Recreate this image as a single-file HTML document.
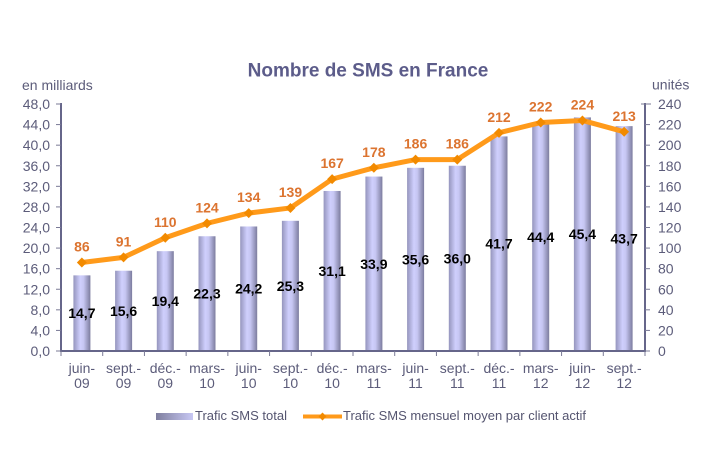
<!DOCTYPE html>
<html><head><meta charset="utf-8"><style>
html,body{margin:0;padding:0;background:#fff;}
svg{display:block;}
text{font-family:"Liberation Sans",Arial,sans-serif;}
</style></head><body>
<svg width="715" height="461" viewBox="0 0 715 461" xmlns="http://www.w3.org/2000/svg">
<defs>
<linearGradient id="bg" x1="0" x2="1" y1="0" y2="0">
<stop offset="0" stop-color="#9595bd"/>
<stop offset="0.4" stop-color="#cfcffd"/>
<stop offset="0.6" stop-color="#c6c6f2"/>
<stop offset="1" stop-color="#7c7c9e"/>
</linearGradient>
<linearGradient id="lg" x1="0" x2="1" y1="0" y2="0">
<stop offset="0" stop-color="#7f7f9f"/>
<stop offset="1" stop-color="#c8c8f4"/>
</linearGradient>
</defs>
<rect width="715" height="461" fill="#fff"/>
<text x="368" y="76.5" font-size="19" font-weight="bold" fill="#5c5c8a" text-anchor="middle">Nombre de SMS en France</text>
<text x="22" y="90" font-size="14" fill="#5c5c7a">en milliards</text>
<text x="652" y="89.5" font-size="14" fill="#5c5c7a">unités</text>

<!-- bars -->
<g fill="url(#bg)">
<rect x="73.4" y="275.36" width="17" height="75.64"/>
<rect x="115.1" y="270.73" width="17" height="80.27"/>
<rect x="156.8" y="251.17" width="17" height="99.83"/>
<rect x="198.5" y="236.25" width="17" height="114.75"/>
<rect x="240.2" y="226.47" width="17" height="124.53"/>
<rect x="281.9" y="220.81" width="17" height="130.19"/>
<rect x="323.6" y="190.97" width="17" height="160.03"/>
<rect x="365.4" y="176.56" width="17" height="174.44"/>
<rect x="407.1" y="167.81" width="17" height="183.19"/>
<rect x="448.8" y="165.75" width="17" height="185.25"/>
<rect x="490.5" y="136.42" width="17" height="214.58"/>
<rect x="532.2" y="122.53" width="17" height="228.47"/>
<rect x="573.9" y="117.38" width="17" height="233.62"/>
<rect x="615.6" y="126.13" width="17" height="224.87"/>
</g>

<!-- axes -->
<g stroke="#66668a" stroke-width="2" fill="none">
<line x1="61" y1="103" x2="61" y2="351"/>
<line x1="645" y1="103" x2="645" y2="351"/>
<line x1="60" y1="351" x2="646" y2="351"/>
</g>
<g stroke="#7a7a96" stroke-width="1">
<line x1="56" y1="104" x2="61" y2="104"/><line x1="56" y1="124.58" x2="61" y2="124.58"/><line x1="56" y1="145.17" x2="61" y2="145.17"/><line x1="56" y1="165.75" x2="61" y2="165.75"/><line x1="56" y1="186.33" x2="61" y2="186.33"/><line x1="56" y1="206.92" x2="61" y2="206.92"/><line x1="56" y1="227.5" x2="61" y2="227.5"/><line x1="56" y1="248.08" x2="61" y2="248.08"/><line x1="56" y1="268.67" x2="61" y2="268.67"/><line x1="56" y1="289.25" x2="61" y2="289.25"/><line x1="56" y1="309.83" x2="61" y2="309.83"/><line x1="56" y1="330.42" x2="61" y2="330.42"/><line x1="56" y1="351" x2="61" y2="351"/>
<line x1="641" y1="104" x2="651" y2="104"/><line x1="645" y1="124.58" x2="650" y2="124.58"/><line x1="645" y1="145.17" x2="650" y2="145.17"/><line x1="645" y1="165.75" x2="650" y2="165.75"/><line x1="645" y1="186.33" x2="650" y2="186.33"/><line x1="645" y1="206.92" x2="650" y2="206.92"/><line x1="645" y1="227.5" x2="650" y2="227.5"/><line x1="645" y1="248.08" x2="650" y2="248.08"/><line x1="645" y1="268.67" x2="650" y2="268.67"/><line x1="645" y1="289.25" x2="650" y2="289.25"/><line x1="645" y1="309.83" x2="650" y2="309.83"/><line x1="645" y1="330.42" x2="650" y2="330.42"/><line x1="645" y1="351" x2="650" y2="351"/>
<line x1="61" y1="351" x2="61" y2="356"/><line x1="102.71" y1="351" x2="102.71" y2="356"/><line x1="144.43" y1="351" x2="144.43" y2="356"/><line x1="186.14" y1="351" x2="186.14" y2="356"/><line x1="227.86" y1="351" x2="227.86" y2="356"/><line x1="269.57" y1="351" x2="269.57" y2="356"/><line x1="311.29" y1="351" x2="311.29" y2="356"/><line x1="353" y1="351" x2="353" y2="356"/><line x1="394.71" y1="351" x2="394.71" y2="356"/><line x1="436.43" y1="351" x2="436.43" y2="356"/><line x1="478.14" y1="351" x2="478.14" y2="356"/><line x1="519.86" y1="351" x2="519.86" y2="356"/><line x1="561.57" y1="351" x2="561.57" y2="356"/><line x1="603.29" y1="351" x2="603.29" y2="356"/><line x1="645" y1="351" x2="645" y2="356"/>
</g>

<!-- left labels -->
<g font-size="14" fill="#5c5c7a" text-anchor="end">
<text x="50" y="109">48,0</text><text x="50" y="129.58">44,0</text><text x="50" y="150.17">40,0</text><text x="50" y="170.75">36,0</text><text x="50" y="191.33">32,0</text><text x="50" y="211.92">28,0</text><text x="50" y="232.5">24,0</text><text x="50" y="253.08">20,0</text><text x="50" y="273.67">16,0</text><text x="50" y="294.25">12,0</text><text x="50" y="314.83">8,0</text><text x="50" y="335.42">4,0</text><text x="50" y="356">0,0</text>
</g>
<!-- right labels -->
<g font-size="14" fill="#5c5c7a">
<text x="658" y="109">240</text><text x="658" y="129.58">220</text><text x="658" y="150.17">200</text><text x="658" y="170.75">180</text><text x="658" y="191.33">160</text><text x="658" y="211.92">140</text><text x="658" y="232.5">120</text><text x="658" y="253.08">100</text><text x="658" y="273.67">80</text><text x="658" y="294.25">60</text><text x="658" y="314.83">40</text><text x="658" y="335.42">20</text><text x="658" y="356">0</text>
</g>

<!-- category labels -->
<g font-size="14" fill="#5c5c7a" text-anchor="middle">
<text x="81.86" y="373">juin-</text><text x="81.86" y="388">09</text>
<text x="123.57" y="373">sept.-</text><text x="123.57" y="388">09</text>
<text x="165.29" y="373">déc.-</text><text x="165.29" y="388">09</text>
<text x="207" y="373">mars-</text><text x="207" y="388">10</text>
<text x="248.71" y="373">juin-</text><text x="248.71" y="388">10</text>
<text x="290.43" y="373">sept.-</text><text x="290.43" y="388">10</text>
<text x="332.14" y="373">déc.-</text><text x="332.14" y="388">10</text>
<text x="373.86" y="373">mars-</text><text x="373.86" y="388">11</text>
<text x="415.57" y="373">juin-</text><text x="415.57" y="388">11</text>
<text x="457.29" y="373">sept.-</text><text x="457.29" y="388">11</text>
<text x="499" y="373">déc.-</text><text x="499" y="388">11</text>
<text x="540.71" y="373">mars-</text><text x="540.71" y="388">12</text>
<text x="582.43" y="373">juin-</text><text x="582.43" y="388">12</text>
<text x="624.14" y="373">sept.-</text><text x="624.14" y="388">12</text>
</g>

<!-- bar value labels -->
<g font-size="14" font-weight="bold" fill="#000" text-anchor="middle">
<text x="81.86" y="318">14,7</text>
<text x="123.57" y="316">15,6</text>
<text x="165.29" y="306">19,4</text>
<text x="207" y="298.6">22,3</text>
<text x="248.71" y="293.7">24,2</text>
<text x="290.43" y="290.9">25,3</text>
<text x="332.14" y="276">31,1</text>
<text x="373.86" y="268.8">33,9</text>
<text x="415.57" y="264.4">35,6</text>
<text x="457.29" y="263.4">36,0</text>
<text x="499" y="248.7">41,7</text>
<text x="540.71" y="241.8">44,4</text>
<text x="582.43" y="239.2">45,4</text>
<text x="624.14" y="243.6">43,7</text>
</g>

<!-- line -->
<polyline fill="none" stroke="#ff9a1a" stroke-width="5" stroke-linejoin="round" stroke-linecap="round"
points="81.86,262.49 123.57,257.35 165.29,237.79 207,223.38 248.71,213.09 290.43,207.95 332.14,179.13 373.86,167.81 415.57,159.57 457.29,159.57 499,132.82 540.71,122.52 582.43,120.47 624.14,131.79"/>
<g fill="#f28a00">
<path d="M81.86,257.49 l5,5 l-5,5 l-5,-5z"/>
<path d="M123.57,252.35 l5,5 l-5,5 l-5,-5z"/>
<path d="M165.29,232.79 l5,5 l-5,5 l-5,-5z"/>
<path d="M207,218.38 l5,5 l-5,5 l-5,-5z"/>
<path d="M248.71,208.09 l5,5 l-5,5 l-5,-5z"/>
<path d="M290.43,202.95 l5,5 l-5,5 l-5,-5z"/>
<path d="M332.14,174.13 l5,5 l-5,5 l-5,-5z"/>
<path d="M373.86,162.81 l5,5 l-5,5 l-5,-5z"/>
<path d="M415.57,154.57 l5,5 l-5,5 l-5,-5z"/>
<path d="M457.29,154.57 l5,5 l-5,5 l-5,-5z"/>
<path d="M499,127.82 l5,5 l-5,5 l-5,-5z"/>
<path d="M540.71,117.52 l5,5 l-5,5 l-5,-5z"/>
<path d="M582.43,115.47 l5,5 l-5,5 l-5,-5z"/>
<path d="M624.14,126.79 l5,5 l-5,5 l-5,-5z"/>
</g>

<!-- line labels -->
<g font-size="14" font-weight="bold" fill="#dc7430" text-anchor="middle">
<text x="81.86" y="251.5">86</text>
<text x="123.57" y="246.3">91</text>
<text x="165.29" y="226.8">110</text>
<text x="207" y="212.4">124</text>
<text x="248.71" y="202.1">134</text>
<text x="290.43" y="196.9">139</text>
<text x="332.14" y="168.1">167</text>
<text x="373.86" y="156.8">178</text>
<text x="415.57" y="148.6">186</text>
<text x="457.29" y="148.6">186</text>
<text x="499" y="121.8">212</text>
<text x="540.71" y="111.5">222</text>
<text x="582.43" y="109.5">224</text>
<text x="624.14" y="120.8">213</text>
</g>

<!-- legend -->
<rect x="156" y="413" width="37" height="7" fill="url(#lg)"/>
<text x="195" y="420" font-size="13" fill="#555570">Trafic SMS total</text>
<line x1="303" y1="416.5" x2="342" y2="416.5" stroke="#ff9a1a" stroke-width="4"/>
<path d="M322.5,412.5 l4,4 l-4,4 l-4,-4z" fill="#f28a00"/>
<text x="343" y="420" font-size="13" fill="#555570">Trafic SMS mensuel moyen par client actif</text>
</svg>
</body></html>
